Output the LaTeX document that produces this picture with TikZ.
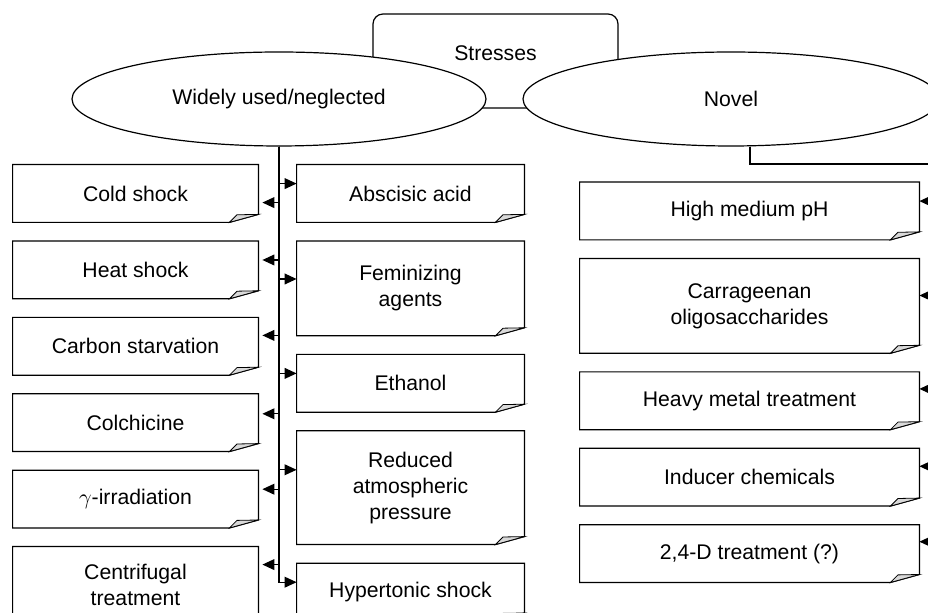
\documentclass[tikz,border=0pt]{standalone}
\usepackage{fontspec}
\setmainfont{Liberation Sans}
\usepackage{tikz}
\tikzset{
  sheet/.style={minimum height=28.5pt, align=center, inner sep=2pt},
  oval/.style={draw, ellipse, fill=white, minimum height=47pt, inner sep=0pt},
  flow/.style={-{Triangle[length=6pt, width=5.4pt]}, line width=0.6pt}
}
\usetikzlibrary{
  positioning, shapes.geometric, arrows.meta, calc
}

% box with a folded lower right corner
\newcommand{\dogear}[1]{%
  \draw[line width=0.6pt] (#1.north west) -- (#1.north east) -- ([yshift=4pt]#1.south east)
    -- ([xshift=-14.5pt]#1.south east) -- (#1.south west) -- cycle;
  \draw[line width=0.4pt, fill=gray!30] ([xshift=-14.5pt]#1.south east)
    -- ([xshift=-10.7pt, yshift=3.8pt]#1.south east) -- ([yshift=4pt]#1.south east) -- cycle;
}

\begin{document}
\begin{tikzpicture}[
  x=0.5pt, y=-0.5pt,
  font=\fontsize{10.6}{13}\selectfont,
  node distance=9.3pt,
  lcol/.style={sheet, minimum width=122.5pt},
  rcol/.style={sheet, minimum width=113.5pt},
  ncol/.style={sheet, minimum width=169.5pt},
  tall/.style={minimum height=47pt}
]
\useasboundingbox (0,0) rectangle (928,613);
\clip (0,0) rectangle (928,613);

\node[draw, line width=0.6pt, rounded corners=5pt, minimum width=122.5pt, minimum height=47pt] (stress) at (495.5,61)
  {\raisebox{4pt}[\height][\depth]{Stresses}};
\node[oval, line width=0.6pt, minimum width=207pt] (wide) at (279,99) {Widely used/neglected};
\node[oval, line width=0.6pt, minimum width=208pt] (novel) at (731,99) {Novel};

% widely used / neglected
\node[lcol] (cold) at (135.5,193.5) {Cold shock};
\node[lcol, below=of cold] (heat) {Heat shock};
\node[lcol, below=of heat] (carbon) {Carbon starvation};
\node[lcol, below=of carbon] (colch) {Colchicine};
\node[lcol, below=of colch] (gamma) {$\gamma$-irradiation};
\node[lcol, minimum height=37.5pt, below=of gamma] (centri) {Centrifugal\\treatment};

\node[rcol] (absc) at (410.5,193.5) {Abscisic acid};
\node[rcol, tall, below=of absc] (femin) {Feminizing\\agents};
\node[rcol, below=of femin] (ethan) {Ethanol};
\node[rcol, minimum height=56.5pt, below=of ethan] (reduc) {Reduced\\atmospheric\\pressure};
\node[rcol, below=of reduc] (hyper) {Hypertonic shock};

% novel
\node[ncol] (phigh) at (749.5,211) {High medium pH};
\node[ncol, tall, below=of phigh] (carra) {Carrageenan\\oligosaccharides};
\node[ncol, below=of carra] (heavy) {Heavy metal treatment};
\node[ncol, below=of heavy] (induc) {Inducer chemicals};
\node[ncol, below=of induc] (twofour) {2,4-D treatment (?)};

\foreach \b in {cold,heat,carbon,colch,gamma,centri,absc,femin,ethan,reduc,hyper,phigh,carra,heavy,induc,twofour}
  {\dogear{\b}}

\coordinate (nbend) at (934,164);

\foreach \b/\d in {cold/19, heat/9.5, carbon/9, colch/10, gamma/9.5, centri/9}
  \draw[flow, shorten >=2pt] (wide.south) |- ([yshift=-\d pt]\b.north east);
\foreach \b/\d in {absc/9.5, femin/19, ethan/9.5, reduc/19.5, hyper/9.5}
  \draw[flow] (wide.south) |- ([yshift=-\d pt]\b.north west);
\foreach \b/\d in {phigh/9.5, carra/18.5, heavy/8.5, induc/9, twofour/8.5}
  \draw[flow] ([xshift=9.5pt]novel.south) |- (nbend) |- ([yshift=-\d pt]\b.north east);
\end{tikzpicture}
\end{document}
